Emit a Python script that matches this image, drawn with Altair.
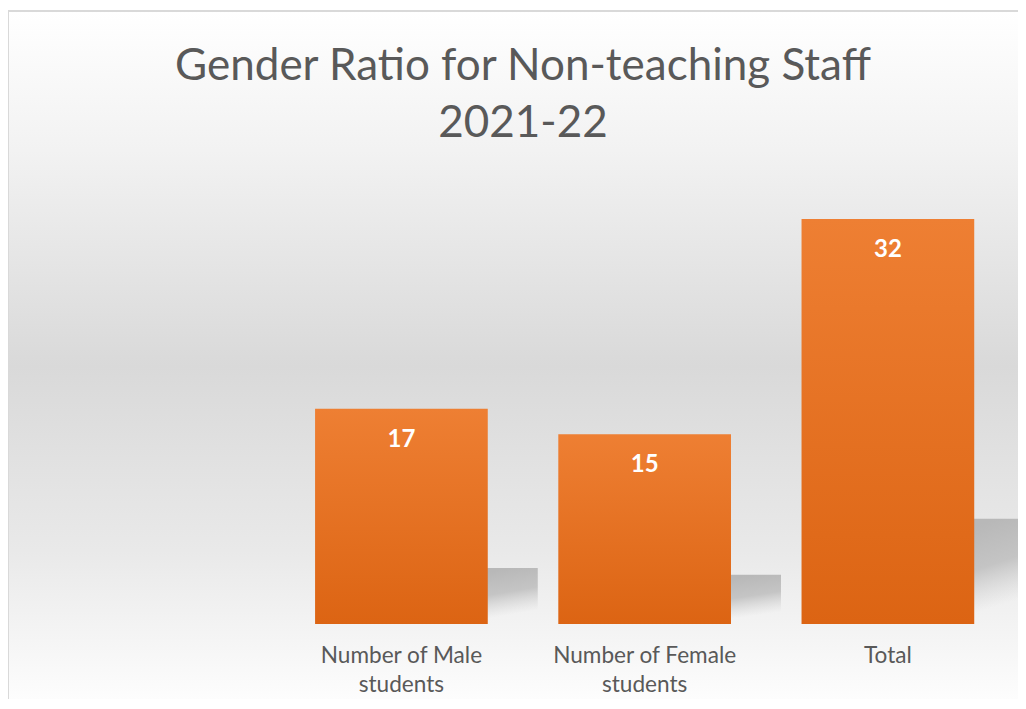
import altair as alt
import pandas as pd

# ---- data ----
categories = ["Number of Male students", "Number of Female students", "Total"]
values = [17, 15, 32]
title_lines = ["Gender Ratio for Non-teaching Staff", "2021-22"]

FONT = "Lato"
W, H = 1010, 688

df = pd.DataFrame({"category": categories, "value": values})

x_enc = alt.X(
    "category:N",
    sort=categories,
    scale=alt.Scale(range=[271.8, 1001.5], paddingInner=0.29, paddingOuter=0.145),
    axis=alt.Axis(
        title=None,
        domain=False,
        ticks=False,
        tickSize=0,
        labelPadding=-55,
        zindex=2,
        labelAngle=0,
        labelLimit=400,
        labelFont=FONT,
        labelFontSize=22.6,
        labelColor="#595959",
        labelLineHeight=29,
        labelBaseline="top",
        labelExpr="indexof(datum.label, ' students') > 0 ? [replace(datum.label, ' students', ''), 'students'] : datum.label",
    ),
)
y_scale = alt.Scale(domain=[0, 35], range=[613, 170])

# background panel with the soft grey gradient and frame line
bg = alt.Chart(alt.Data(values=[{}])).mark_rect(
    fill=alt.Gradient(
        gradient="linear",
        x1=0, x2=0, y1=0, y2=1,
        stops=[
            alt.GradientStop(offset=0.0, color="#ffffff"),
            alt.GradientStop(offset=0.196, color="#f2f2f2"),
            alt.GradientStop(offset=0.5, color="#d9d9d9"),
            alt.GradientStop(offset=0.76, color="#e9e9e9"),
            alt.GradientStop(offset=0.97, color="#fdfdfd"),
            alt.GradientStop(offset=1.0, color="#ffffff"),
        ],
    ),
    stroke="#d9d9d9",
    strokeWidth=2,
).encode(
    x=alt.value(0), x2=alt.value(W + 40),
    y=alt.value(0), y2=alt.value(710),
)

# soft cast shadow behind each bar
shadow = alt.Chart(df).transform_calculate(
    sh="datum.value * 0.26"
).mark_bar(
    xOffset=50,
    fill=alt.Gradient(
        gradient="linear",
        x1=0.66, y1=0.1, x2=1.0, y2=0.75,
        stops=[
            alt.GradientStop(offset=0.0, color="rgba(184,184,184,1)"),
            alt.GradientStop(offset=0.5, color="rgba(192,192,192,0.9)"),
            alt.GradientStop(offset=1.0, color="rgba(210,210,210,0)"),
        ],
    ),
).encode(
    x=x_enc,
    y=alt.Y("sh:Q", scale=y_scale, axis=None),
)

bars = alt.Chart(df).mark_bar(
    fill=alt.Gradient(
        gradient="linear",
        x1=0, x2=0, y1=0, y2=1,
        stops=[
            alt.GradientStop(offset=0.0, color="#ee7f33"),
            alt.GradientStop(offset=1.0, color="#dc6413"),
        ],
    ),
).encode(
    x=x_enc,
    y=alt.Y("value:Q", scale=y_scale, axis=None),
)

labels = alt.Chart(df).mark_text(
    font=FONT,
    fontSize=24,
    fontWeight="bold",
    color="#ffffff",
    baseline="alphabetic",
    dy=38,
).encode(
    x=alt.X("category:N", sort=categories),
    y=alt.Y("value:Q", scale=y_scale),
    text="value:Q",
)

title = alt.Chart(alt.Data(values=[{}])).mark_text(
    font=FONT,
    fontSize=44,
    color="#595959",
    align="center",
    baseline="alphabetic",
    lineHeight=57,
).encode(
    x=alt.value(515),
    y=alt.value(69),
    text=alt.value(title_lines),
)

chart = alt.layer(bg, shadow, bars, labels, title).properties(
    width=W,
    height=H,
    autosize=alt.AutoSizeParams(type="none"),
    padding={"left": 0, "top": 3, "right": 0, "bottom": 0},
).configure_view(stroke=None)

chart.save("out.html", embed_options={"renderer": "svg", "actions": False})
